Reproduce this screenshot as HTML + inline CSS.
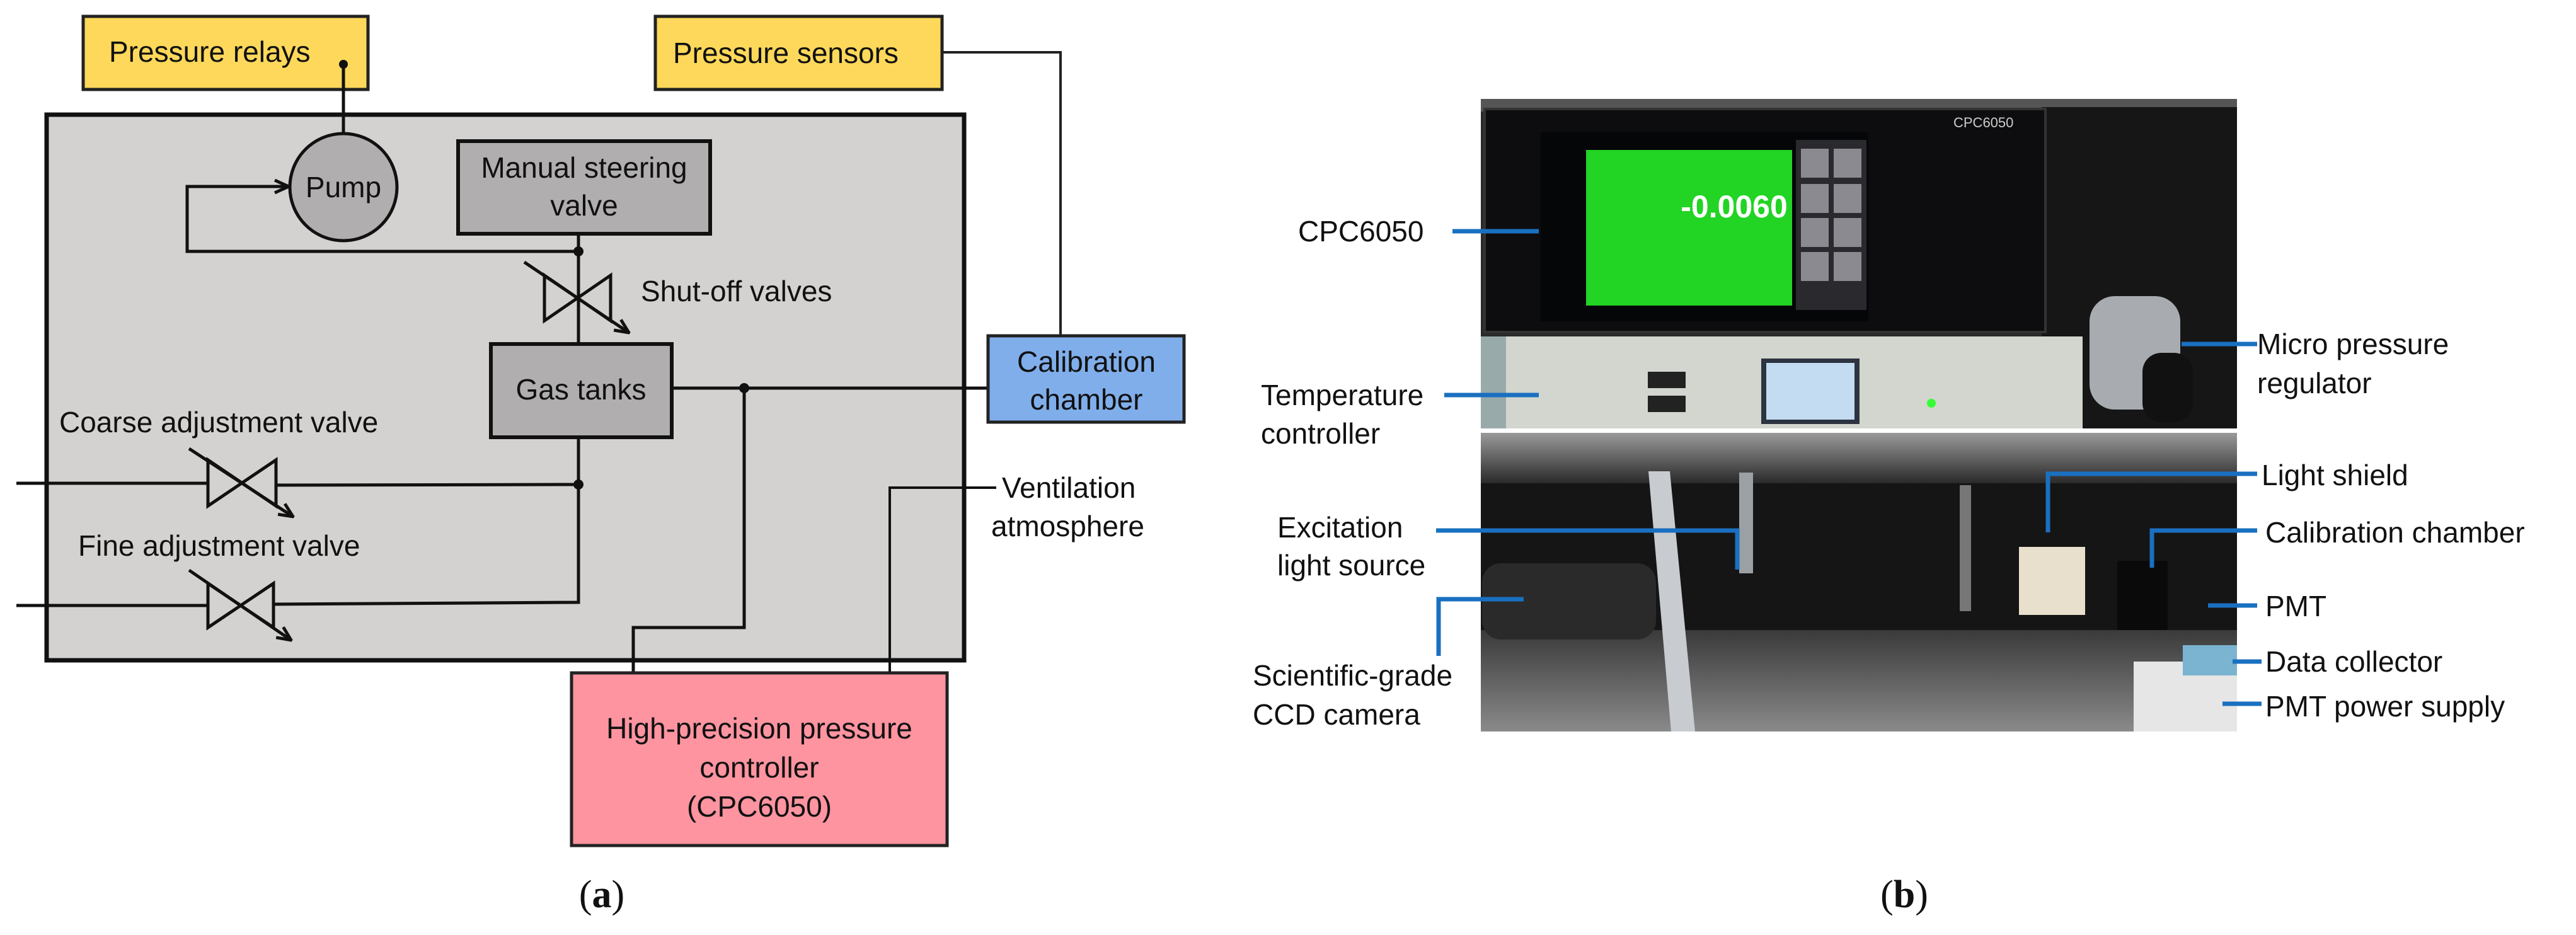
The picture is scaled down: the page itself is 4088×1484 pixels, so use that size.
<!DOCTYPE html>
<html><head><meta charset="utf-8"><style>
html,body{margin:0;padding:0;background:#fff;}
svg{display:block;}
text{font-family:"Liberation Sans",Arial,sans-serif;font-size:46px;fill:#111;}
.s{font-family:"Liberation Serif",serif;font-size:62px;}
</style></head><body>
<svg width="4088" height="1484" viewBox="0 0 4088 1484" xmlns="http://www.w3.org/2000/svg">
<defs>
<marker id="ah" markerWidth="28" markerHeight="28" refX="26" refY="14" orient="auto" markerUnits="userSpaceOnUse">
<path d="M4,4 L26,14 L4,24" fill="none" stroke="#111" stroke-width="5"/></marker>
<linearGradient id="ceil" x1="0" y1="0" x2="0" y2="1"><stop offset="0" stop-color="#9a9a9a"/><stop offset="1" stop-color="#2a2a2a"/></linearGradient>
<linearGradient id="floor" x1="0" y1="0" x2="0" y2="1"><stop offset="0" stop-color="#3a3a3a"/><stop offset="1" stop-color="#8a8a8a"/></linearGradient>
</defs>

<!-- LEFT PANEL -->
<rect x="132" y="26" width="452" height="116" fill="#fdd85a" stroke="#222" stroke-width="5"/>
<text x="173" y="98">Pressure relays</text>
<rect x="1040" y="26" width="455" height="116" fill="#fdd85a" stroke="#222" stroke-width="5"/>
<text x="1068" y="100">Pressure sensors</text>
<polyline points="1495,83 1683,83 1683,532" fill="none" stroke="#222" stroke-width="4"/>

<rect x="74" y="182" width="1456" height="866" fill="#d4d2d0" stroke="#111" stroke-width="7"/>

<line x1="545" y1="102" x2="545" y2="212" stroke="#111" stroke-width="5"/>
<circle cx="545" cy="102" r="7" fill="#111"/>
<circle cx="545" cy="297" r="85" fill="#b0aeae" stroke="#111" stroke-width="5"/>
<text x="545" y="313" text-anchor="middle">Pump</text>
<polyline points="918,399 297,399 297,296 458,296" fill="none" stroke="#111" stroke-width="5" marker-end="url(#ah)"/>

<rect x="727" y="224" width="400" height="147" fill="#b0aeae" stroke="#111" stroke-width="6"/>
<text x="927" y="282" text-anchor="middle">Manual steering</text>
<text x="927" y="342" text-anchor="middle">valve</text>
<line x1="918" y1="371" x2="918" y2="545" stroke="#111" stroke-width="5"/>
<circle cx="918" cy="399" r="8" fill="#111"/>
<polygon points="864,437 969,509 969,437 864,509" fill="none" stroke="#111" stroke-width="5"/>
<line x1="832" y1="416" x2="998" y2="528" stroke="#111" stroke-width="5" marker-end="url(#ah)"/>
<text x="1017" y="478">Shut-off valves</text>

<rect x="779" y="546" width="287" height="148" fill="#b0aeae" stroke="#111" stroke-width="6"/>
<text x="922" y="634" text-anchor="middle">Gas tanks</text>
<line x1="1066" y1="616" x2="1568" y2="616" stroke="#111" stroke-width="5"/>
<circle cx="1181" cy="616" r="8" fill="#111"/>
<polyline points="1181,616 1181,996 1005,996 1005,1105" fill="none" stroke="#111" stroke-width="5"/>
<circle cx="1005" cy="1105" r="8" fill="#111"/>

<rect x="1568" y="533" width="311" height="137" fill="#80aeea" stroke="#222" stroke-width="5"/>
<text x="1724" y="590" text-anchor="middle">Calibration</text>
<text x="1724" y="650" text-anchor="middle">chamber</text>

<polyline points="918,694 918,956 434,959" fill="none" stroke="#111" stroke-width="5"/>
<circle cx="918" cy="769" r="8" fill="#111"/>
<line x1="26" y1="767" x2="330" y2="767" stroke="#111" stroke-width="5"/>
<line x1="438" y1="770" x2="918" y2="769" stroke="#111" stroke-width="5"/>
<polygon points="330,730 438,803 438,730 330,803" fill="none" stroke="#111" stroke-width="5"/>
<line x1="300" y1="712" x2="465" y2="820" stroke="#111" stroke-width="5" marker-end="url(#ah)"/>
<text x="94" y="686">Coarse adjustment valve</text>
<line x1="26" y1="961" x2="330" y2="961" stroke="#111" stroke-width="5"/>
<polygon points="330,926 434,996 434,926 330,996" fill="none" stroke="#111" stroke-width="5"/>
<line x1="300" y1="905" x2="462" y2="1016" stroke="#111" stroke-width="5" marker-end="url(#ah)"/>
<text x="124" y="882">Fine adjustment valve</text>

<polyline points="1581,774 1412,774 1412,1105" fill="none" stroke="#111" stroke-width="4"/>
<circle cx="1412" cy="1105" r="8" fill="#111"/>
<text x="1590" y="790">Ventilation</text>
<text x="1573" y="851">atmosphere</text>

<rect x="907" y="1068" width="596" height="274" fill="#fd94a0" stroke="#222" stroke-width="5"/>
<text x="1205" y="1172" text-anchor="middle">High-precision pressure</text>
<text x="1205" y="1234" text-anchor="middle">controller</text>
<text x="1205" y="1296" text-anchor="middle">(CPC6050)</text>

<text class="s" x="955" y="1440" text-anchor="middle">(<tspan font-weight="bold">a</tspan>)</text>

<!-- RIGHT PANEL PHOTOS -->
<rect x="2350" y="157" width="1200" height="523" fill="#2a2a2a"/>
<rect x="2350" y="157" width="1200" height="20" fill="#555"/>
<rect x="3240" y="170" width="310" height="510" fill="#161616"/>
<rect x="2356" y="173" width="890" height="354" fill="#0d0d0f" stroke="#333" stroke-width="4"/>
<rect x="2445" y="210" width="520" height="300" fill="#050608"/>
<rect x="2517" y="238" width="327" height="247" fill="#22d424"/>
<text x="2752" y="345" text-anchor="middle" style="font-size:50px;font-weight:bold;fill:#fff;font-family:'Liberation Sans',sans-serif">-0.0060</text>
<rect x="2850" y="222" width="112" height="270" fill="#2a2a2e"/>
<g fill="#8a8a90">
<rect x="2858" y="236" width="44" height="46"/><rect x="2910" y="236" width="44" height="46"/>
<rect x="2858" y="292" width="44" height="46"/><rect x="2910" y="292" width="44" height="46"/>
<rect x="2858" y="346" width="44" height="46"/><rect x="2910" y="346" width="44" height="46"/>
<rect x="2858" y="400" width="44" height="46"/><rect x="2910" y="400" width="44" height="46"/>
</g>
<text x="3100" y="202" style="font-size:22px;fill:#ccc">CPC6050</text>
<rect x="2387" y="534" width="918" height="146" fill="#d2d6ce"/>
<rect x="2350" y="534" width="40" height="146" fill="#9aa"/>
<rect x="2795" y="569" width="156" height="104" fill="#2d3340"/>
<rect x="2803" y="576" width="140" height="90" fill="#c4dcf2"/>
<g fill="#222"><rect x="2615" y="590" width="60" height="26"/><rect x="2615" y="628" width="60" height="26"/></g>
<circle cx="3065" cy="640" r="7" fill="#3f3"/>
<rect x="3316" y="470" width="144" height="180" rx="40" fill="#a8acb0"/>
<rect x="3400" y="560" width="80" height="110" rx="30" fill="#111"/>

<rect x="2350" y="687" width="1200" height="474" fill="#151515"/>
<rect x="2350" y="687" width="1200" height="80" fill="url(#ceil)"/>
<path d="M2350,1000 L3550,1000 L3550,1161 L2350,1161 Z" fill="url(#floor)"/>
<polygon points="2616,748 2650,748 2690,1161 2652,1161" fill="#c8ccd0"/>
<rect x="2760" y="750" width="22" height="160" fill="#9aa0a4"/>
<rect x="3110" y="770" width="18" height="200" fill="#777"/>
<rect x="2352" y="894" width="276" height="121" rx="30" fill="#2a2a2a"/>
<rect x="3204" y="868" width="105" height="108" fill="#e8e0cc"/>
<rect x="3360" y="890" width="80" height="110" fill="#0a0a0a"/>
<rect x="3386" y="1050" width="164" height="111" fill="#e6e6e6"/>
<rect x="3464" y="1024" width="86" height="48" fill="#7ab4d0"/>

<g stroke="#1a70c0" stroke-width="7" fill="none">
<line x1="2305" y1="367" x2="2442" y2="367"/>
<line x1="2292" y1="627" x2="2442" y2="627"/>
<line x1="3462" y1="546" x2="3582" y2="546"/>
<polyline points="3250,845 3250,752 3582,752"/>
<polyline points="3415,901 3415,842 3582,842"/>
<line x1="3504" y1="961" x2="3582" y2="961"/>
<line x1="3543" y1="1050" x2="3589" y2="1050"/>
<line x1="3527" y1="1117" x2="3589" y2="1117"/>
<polyline points="2279,842 2757,842 2757,904"/>
<polyline points="2283,1041 2283,951 2418,951"/>
</g>

<text x="2060" y="383">CPC6050</text>
<text x="2001" y="643">Temperature</text>
<text x="2001" y="704">controller</text>
<text x="3582" y="562">Micro pressure</text>
<text x="3582" y="624">regulator</text>
<text x="3589" y="770">Light shield</text>
<text x="3595" y="861">Calibration chamber</text>
<text x="3595" y="978">PMT</text>
<text x="3595" y="1066">Data collector</text>
<text x="3595" y="1137">PMT power supply</text>
<text x="2027" y="853">Excitation</text>
<text x="2027" y="913">light source</text>
<text x="1988" y="1088">Scientific-grade</text>
<text x="1988" y="1150">CCD camera</text>

<text class="s" x="3022" y="1440" text-anchor="middle">(<tspan font-weight="bold">b</tspan>)</text>
</svg>
</body></html>
